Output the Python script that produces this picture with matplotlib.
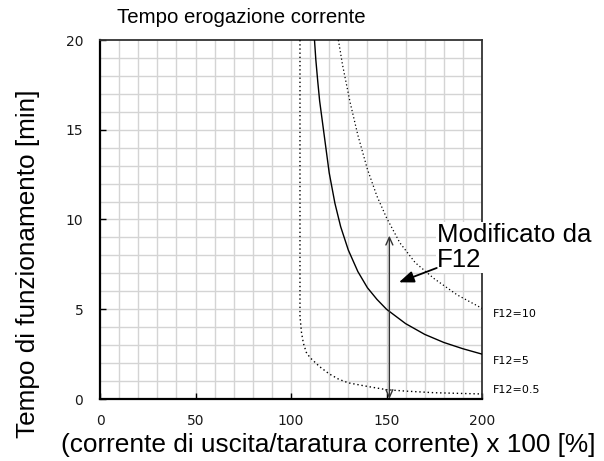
import matplotlib
matplotlib.use("Agg")
import matplotlib.pyplot as plt

plt.rcParams['font.family'] = ['Liberation Sans', 'DejaVu Sans']

# Trip-time curves: current ratio [%] vs operating time [min]
x_f05 = [104.7, 104.7, 105.5, 106.5, 108, 110, 115, 120, 125, 130, 140, 150, 160, 175, 200]
t_f05 = [20, 4.6, 3.7, 3.1, 2.6, 2.3, 1.8, 1.4, 1.1, 0.9, 0.7, 0.52, 0.44, 0.35, 0.28]

x_f5 = [112.3, 113, 114, 115, 117, 120, 123, 126, 130, 135, 140, 145, 150, 160, 170, 180, 190, 200]
t_f5 = [20, 18.9, 17.7, 16.6, 15.0, 12.6, 10.9, 9.6, 8.3, 7.1, 6.2, 5.55, 5.0, 4.2, 3.6, 3.15, 2.8, 2.5]

x_f10 = [124.8, 127, 131, 135, 140, 145, 150, 157, 165, 175, 187, 200]
t_f10 = [20, 18.6, 16.5, 14.7, 12.8, 11.3, 10.1, 8.7, 7.6, 6.7, 5.8, 5.05]

curve_labels = ["F12=10", "F12=5", "F12=0.5"]
x_ticks = [0, 50, 100, 150, 200]
y_ticks = [0, 5, 10, 15, 20]

arrow_x = 151.5
arrow_top = 9.1

W, H = 604, 461
fig = plt.figure(figsize=(W / 100, H / 100), dpi=100)
ax = fig.add_axes([100 / W, 62 / H, 382 / W, 359 / H])

ax.set_xlim(0, 200)
ax.set_ylim(0, 20)

# fine grid
for gx in range(10, 200, 10):
    ax.axvline(gx, color='#d4d4d4', lw=1.0, zorder=0)
for gy in range(1, 20):
    ax.axhline(gy, color='#d4d4d4', lw=1.0, zorder=0)

ax.plot(x_f05, t_f05, color='black', lw=1.0, ls=(0, (1, 2)), zorder=3)
ax.plot(x_f5, t_f5, color='black', lw=1.0, zorder=3)
ax.plot(x_f10, t_f10, color='black', lw=0.9, ls=(0, (1, 2)), zorder=3)

tick_font = dict(fontsize=10, fontfamily='DejaVu Sans', color='#1a1a1a')
ax.set_xticks(x_ticks)
ax.set_xticklabels([str(v) for v in x_ticks], **tick_font)
ax.set_yticks(y_ticks)
ax.set_yticklabels([str(v) for v in y_ticks], **tick_font)
ax.tick_params(direction='in', length=4, width=1, color='black')
ax.tick_params(axis='x', pad=11)
ax.tick_params(axis='y', pad=12)

for side in ['left', 'bottom']:
    ax.spines[side].set_linewidth(1.6)
    ax.spines[side].set_color('black')
for side in ['top', 'right']:
    ax.spines[side].set_linewidth(1.3)
    ax.spines[side].set_color('#333333')

fig.text(241 / W, 1 - 23 / H, "Tempo erogazione corrente", fontsize=14.7,
         ha='center', va='baseline')
fig.text(28 / W, 1 - 264 / H, "Tempo di funzionamento [min]", fontsize=18.8,
         rotation=90, ha='center', va='center')
fig.text(328 / W, 1 - 452 / H, "(corrente di uscita/taratura corrente) x 100 [%]",
         fontsize=18.9, ha='center', va='baseline')

# double-headed arrow showing the F12 adjustment
ax.annotate("", xy=(arrow_x, arrow_top), xytext=(arrow_x, 0),
            arrowprops=dict(arrowstyle='<->,head_length=0.55,head_width=0.25',
                            color='#333333', lw=1.0, shrinkA=0, shrinkB=0),
            zorder=4)

# curve labels to the right of the axes
for lbl, yv in zip(curve_labels, [4.74, 2.13, 0.5]):
    ax.text(205.6, yv, lbl, fontsize=8, va='center', ha='left', clip_on=False,
            fontfamily='DejaVu Sans')

# callout
ax.text(176.3, 7.05, "Modificato da\nF12", fontsize=18.6, ha='left', va='bottom',
        linespacing=1.08, clip_on=False, zorder=5,
        bbox=dict(facecolor='white', edgecolor='none', pad=0.5))
ax.annotate("", xy=(156.5, 6.5), xytext=(176.3, 7.3),
            arrowprops=dict(arrowstyle='-|>,head_length=0.9,head_width=0.35',
                            color='black', lw=1.3, shrinkA=0, shrinkB=0),
            zorder=6)

fig.savefig("out.png", dpi=100, facecolor='white')
